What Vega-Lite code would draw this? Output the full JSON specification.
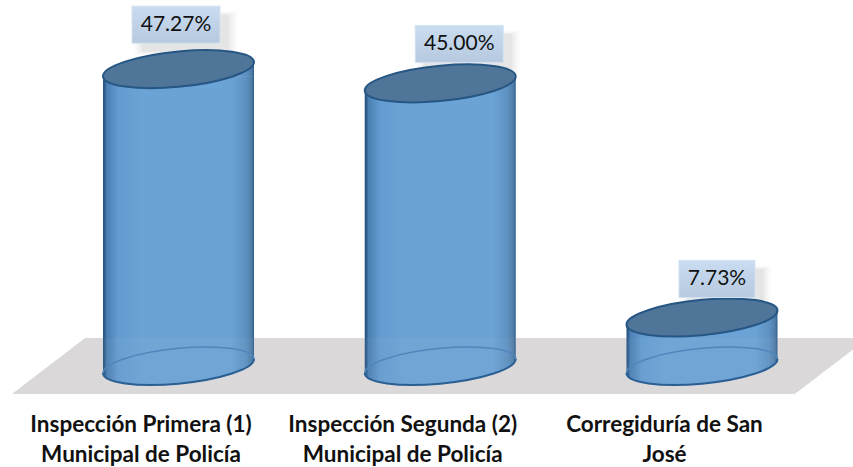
{
  "$schema": "https://vega.github.io/schema/vega-lite/v6.json",
  "width": 853,
  "height": 467,
  "padding": 0,
  "autosize": "none",
  "background": "white",
  "config": {"view": {"stroke": null}},
  "datasets": {
    "offices": [
      {"pos": 1, "pct": 47.27, "label": "47.27%"},
      {"pos": 2, "pct": 45.0, "label": "45.00%"},
      {"pos": 3, "pct": 7.73, "label": "7.73%"}
    ],
    "floor": [
      {"pos": 0.364, "pct": -4.46, "base": -4.46},
      {"pos": 0.643, "pct": 4.46, "base": -4.46},
      {"pos": 3.355, "pct": 4.46, "base": -4.46},
      {"pos": 3.577, "pct": 4.46, "base": 2.63}
    ]
  },
  "data": {"name": "offices"},
  "encoding": {
    "x": {
      "field": "pos",
      "type": "quantitative",
      "scale": {"domain": [0.318, 3.577], "nice": false, "zero": false, "padding": 0},
      "axis": {
        "title": null,
        "grid": false,
        "domain": false,
        "ticks": false,
        "values": [1, 2, 3],
        "offset": -62,
        "labelExpr": "datum.value == 1 ? ['Inspección Primera (1)', 'Municipal de Policía'] : datum.value == 2 ? ['Inspección Segunda (2)', 'Municipal de Policía'] : ['Corregiduría de San', 'José']",
        "labelFont": "Lato",
        "labelFontSize": 22.5,
        "labelFontWeight": "bold",
        "labelColor": "#111111",
        "labelPadding": 8,
        "labelOffset": -38,
        "labelLimit": 400,
        "labelLineHeight": 30,
        "labelBaseline": "top",
        "labelFlush": false,
        "labelOverlap": false,
        "labelBound": false
      }
    },
    "y": {
      "field": "pct",
      "type": "quantitative",
      "scale": {"domain": [-16.08, 58.28], "nice": false, "zero": false, "padding": 0},
      "axis": null
    }
  },
  "layer": [
    {
      "data": {"name": "floor"},
      "mark": {"type": "area", "color": "#dbd9da", "opacity": 1},
      "encoding": {"y2": {"field": "base"}}
    },
    {
      "transform": [{"filter": "datum.pos == 1"}],
      "layer": [
        {"mark": {"type": "point", "shape": "M -1 -0.42 L 1 -0.42 L 1 0.42 L -1 0.42 Z", "size": 11000, "filled": true, "fill": "#000000", "opacity": 0.012, "xOffset": 7, "yOffset": -36}},
        {"mark": {"type": "point", "shape": "M -1 -0.42 L 1 -0.42 L 1 0.42 L -1 0.42 Z", "size": 10000, "filled": true, "fill": "#000000", "opacity": 0.016, "xOffset": 7, "yOffset": -36}},
        {"mark": {"type": "point", "shape": "M -1 -0.42 L 1 -0.42 L 1 0.42 L -1 0.42 Z", "size": 9200, "filled": true, "fill": "#000000", "opacity": 0.02, "xOffset": 7, "yOffset": -36}},
        {"mark": {"type": "point", "shape": "M -1 -0.42 L 1 -0.42 L 1 0.42 L -1 0.42 Z", "size": 8400, "filled": true, "fill": "#000000", "opacity": 0.025, "xOffset": 7, "yOffset": -36}},
        {"mark": {"type": "point", "shape": "M -1 -0.42 L 1 -0.42 L 1 0.42 L -1 0.42 Z", "size": 7600, "filled": true, "fill": "#000000", "opacity": 0.03, "xOffset": 7, "yOffset": -36}}
      ]
    },
    {
      "transform": [{"filter": "datum.pos == 2"}],
      "layer": [
        {"mark": {"type": "point", "shape": "M -1 -0.42 L 1 -0.42 L 1 0.42 L -1 0.42 Z", "size": 11000, "filled": true, "fill": "#000000", "opacity": 0.012, "xOffset": 28, "yOffset": -31}},
        {"mark": {"type": "point", "shape": "M -1 -0.42 L 1 -0.42 L 1 0.42 L -1 0.42 Z", "size": 10000, "filled": true, "fill": "#000000", "opacity": 0.016, "xOffset": 28, "yOffset": -31}},
        {"mark": {"type": "point", "shape": "M -1 -0.42 L 1 -0.42 L 1 0.42 L -1 0.42 Z", "size": 9200, "filled": true, "fill": "#000000", "opacity": 0.02, "xOffset": 28, "yOffset": -31}},
        {"mark": {"type": "point", "shape": "M -1 -0.42 L 1 -0.42 L 1 0.42 L -1 0.42 Z", "size": 8400, "filled": true, "fill": "#000000", "opacity": 0.025, "xOffset": 28, "yOffset": -31}},
        {"mark": {"type": "point", "shape": "M -1 -0.42 L 1 -0.42 L 1 0.42 L -1 0.42 Z", "size": 7600, "filled": true, "fill": "#000000", "opacity": 0.03, "xOffset": 28, "yOffset": -31}}
      ]
    },
    {
      "transform": [{"filter": "datum.pos == 3"}],
      "layer": [
        {"mark": {"type": "point", "shape": "M -1 -0.487 L 1 -0.487 L 1 0.487 L -1 0.487 Z", "size": 8200, "filled": true, "fill": "#000000", "opacity": 0.012, "xOffset": 24, "yOffset": -30}},
        {"mark": {"type": "point", "shape": "M -1 -0.487 L 1 -0.487 L 1 0.487 L -1 0.487 Z", "size": 7500, "filled": true, "fill": "#000000", "opacity": 0.016, "xOffset": 24, "yOffset": -30}},
        {"mark": {"type": "point", "shape": "M -1 -0.487 L 1 -0.487 L 1 0.487 L -1 0.487 Z", "size": 6900, "filled": true, "fill": "#000000", "opacity": 0.02, "xOffset": 24, "yOffset": -30}},
        {"mark": {"type": "point", "shape": "M -1 -0.487 L 1 -0.487 L 1 0.487 L -1 0.487 Z", "size": 6300, "filled": true, "fill": "#000000", "opacity": 0.025, "xOffset": 24, "yOffset": -30}},
        {"mark": {"type": "point", "shape": "M -1 -0.487 L 1 -0.487 L 1 0.487 L -1 0.487 Z", "size": 5700, "filled": true, "fill": "#000000", "opacity": 0.03, "xOffset": 24, "yOffset": -30}}
      ]
    },
    {
      "mark": {
        "type": "bar",
        "orient": "vertical",
        "size": 151,
        "yOffset": 7,
        "y2Offset": -7,
        "fill": {"gradient": "linear", "x1": 0, "x2": 1, "y1": 0, "y2": 0, "stops": [
          {"offset": 0, "color": "#234f7c"},
          {"offset": 0.012, "color": "#2f5f8f"},
          {"offset": 0.025, "color": "#4a7fb2"},
          {"offset": 0.1, "color": "#649bd0"},
          {"offset": 0.25, "color": "#6ba3d6"},
          {"offset": 0.85, "color": "#6ba3d6"},
          {"offset": 0.95, "color": "#5d90c0"},
          {"offset": 0.985, "color": "#4f7ca6"},
          {"offset": 1, "color": "#2b5b8c"}
        ]}
      },
      "encoding": {"y2": {"datum": 0}}
    },
    {
      "mark": {
        "type": "point",
        "shape": "M -1 0.093 L 1 -0.093 L 1 0.1 L -1 0.1 Z",
        "size": 22801,
        "filled": true,
        "opacity": 1,
        "fill": {"gradient": "linear", "x1": 0, "x2": 1, "y1": 0, "y2": 0, "stops": [
          {"offset": 0, "color": "#234f7c"},
          {"offset": 0.012, "color": "#2f5f8f"},
          {"offset": 0.025, "color": "#4a7fb2"},
          {"offset": 0.1, "color": "#649bd0"},
          {"offset": 0.25, "color": "#6ba3d6"},
          {"offset": 0.85, "color": "#6ba3d6"},
          {"offset": 0.95, "color": "#5d90c0"},
          {"offset": 0.985, "color": "#4f7ca6"},
          {"offset": 1, "color": "#2b5b8c"}
        ]}
      }
    },
    {
      "mark": {
        "type": "point",
        "shape": "M -1 -0.1 L 1 -0.1 L 1 -0.093 C 1 0.036 0.552 0.183 0 0.234 C -0.552 0.285 -1 0.222 -1 0.093 Z",
        "size": 22801,
        "filled": true,
        "opacity": 1,
        "fill": {"gradient": "linear", "x1": 0, "x2": 1, "y1": 0, "y2": 0, "stops": [
          {"offset": 0, "color": "#234f7c"},
          {"offset": 0.012, "color": "#2f5f8f"},
          {"offset": 0.025, "color": "#4a7fb2"},
          {"offset": 0.1, "color": "#649bd0"},
          {"offset": 0.25, "color": "#6ba3d6"},
          {"offset": 0.85, "color": "#6ba3d6"},
          {"offset": 0.95, "color": "#5d90c0"},
          {"offset": 0.985, "color": "#4f7ca6"},
          {"offset": 1, "color": "#2b5b8c"}
        ]}
      },
      "encoding": {"y": {"datum": 0}}
    },
    {
      "data": {"name": "floor"},
      "mark": {"type": "area", "color": "#dbd9da", "opacity": 0.05},
      "encoding": {"y2": {"field": "base"}}
    },
    {
      "mark": {
        "type": "point",
        "shape": "M -1 0.093 C -1 -0.036 -0.552 -0.183 0 -0.234 C 0.552 -0.285 1 -0.222 1 -0.093",
        "size": 22801,
        "filled": false,
        "fill": null,
        "opacity": 1,
        "stroke": "#4f86bc",
        "strokeWidth": 1.5
      },
      "encoding": {"y": {"datum": 0}}
    },
    {
      "mark": {
        "type": "point",
        "shape": "M 1 -0.093 C 1 0.036 0.552 0.183 0 0.234 C -0.552 0.285 -1 0.222 -1 0.093",
        "size": 22801,
        "filled": false,
        "fill": null,
        "opacity": 1,
        "stroke": "#2a5f94",
        "strokeWidth": 2
      },
      "encoding": {"y": {"datum": 0}}
    },
    {
      "mark": {
        "type": "point",
        "shape": "M 1 -0.093 C 1 0.036 0.552 0.183 0 0.234 C -0.552 0.285 -1 0.222 -1 0.093 C -1 -0.036 -0.552 -0.183 0 -0.234 C 0.552 -0.285 1 -0.222 1 -0.093 Z",
        "size": 22801,
        "filled": true,
        "opacity": 1,
        "fill": "#4f7599",
        "stroke": "#265684",
        "strokeWidth": 2
      }
    },
    {
      "transform": [{"filter": "datum.pos == 1"}],
      "layer": [
        {"mark": {"type": "point", "shape": "M -1 -0.42 L 1 -0.42 L 1 0.42 L -1 0.42 Z", "size": 7744, "filled": true, "opacity": 1, "xOffset": -2.5, "yOffset": -44.5, "stroke": "#d3e2f2", "strokeWidth": 1,
          "fill": {"gradient": "linear", "x1": 0, "x2": 0, "y1": 0, "y2": 1, "stops": [{"offset": 0, "color": "#c9dcf0"}, {"offset": 1, "color": "#b6c9df"}]}}},
        {"mark": {"type": "text", "font": "Lato", "fontSize": 21, "color": "#111111", "dx": -2.5, "dy": -44.5, "baseline": "middle"}, "encoding": {"text": {"field": "label"}}}
      ]
    },
    {
      "transform": [{"filter": "datum.pos == 2"}],
      "layer": [
        {"mark": {"type": "point", "shape": "M -1 -0.42 L 1 -0.42 L 1 0.42 L -1 0.42 Z", "size": 7744, "filled": true, "opacity": 1, "xOffset": 19, "yOffset": -39.5, "stroke": "#d3e2f2", "strokeWidth": 1,
          "fill": {"gradient": "linear", "x1": 0, "x2": 0, "y1": 0, "y2": 1, "stops": [{"offset": 0, "color": "#c9dcf0"}, {"offset": 1, "color": "#b6c9df"}]}}},
        {"mark": {"type": "text", "font": "Lato", "fontSize": 21, "color": "#111111", "dx": 19, "dy": -39.5, "baseline": "middle"}, "encoding": {"text": {"field": "label"}}}
      ]
    },
    {
      "transform": [{"filter": "datum.pos == 3"}],
      "layer": [
        {"mark": {"type": "point", "shape": "M -1 -0.487 L 1 -0.487 L 1 0.487 L -1 0.487 Z", "size": 5776, "filled": true, "opacity": 1, "xOffset": 15, "yOffset": -38.5, "stroke": "#d3e2f2", "strokeWidth": 1,
          "fill": {"gradient": "linear", "x1": 0, "x2": 0, "y1": 0, "y2": 1, "stops": [{"offset": 0, "color": "#c9dcf0"}, {"offset": 1, "color": "#b6c9df"}]}}},
        {"mark": {"type": "text", "font": "Lato", "fontSize": 21, "color": "#111111", "dx": 15, "dy": -38.5, "baseline": "middle"}, "encoding": {"text": {"field": "label"}}}
      ]
    }
  ]
}
